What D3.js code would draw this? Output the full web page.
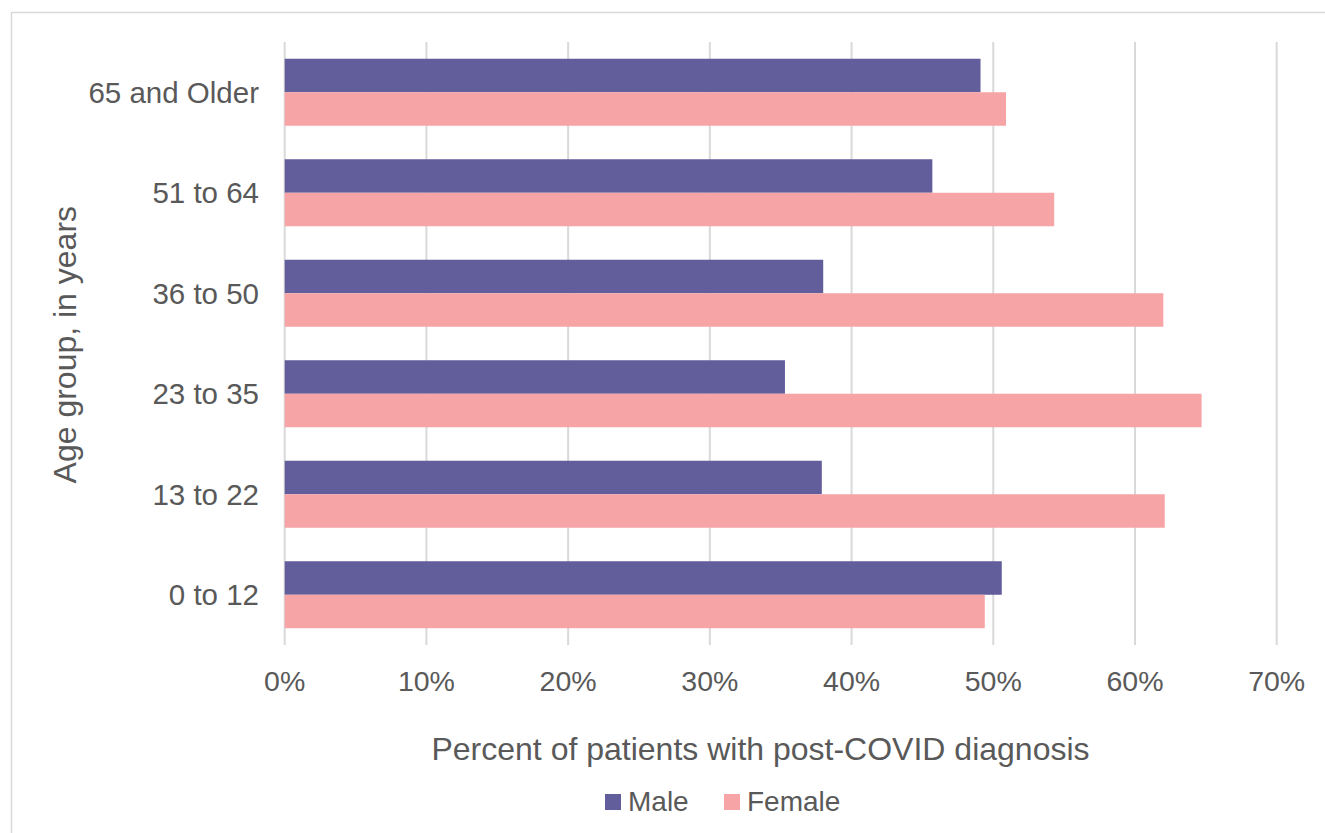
<!DOCTYPE html>
<html>
<head>
<meta charset="utf-8">
<script src="https://cdn.jsdelivr.net/npm/d3@7"></script>
<style>
  body { margin: 0; background: #fff; }
  text { font-family: "Liberation Sans", Arial, sans-serif; fill: #595959; }
</style>
</head>
<body>
<div id="chart"></div>
<script>
// age groups, top to bottom as drawn
var groups = ['65 and Older', '51 to 64', '36 to 50', '23 to 35', '13 to 22', '0 to 12'];
var male = [49.1, 45.7, 38.0, 35.3, 37.9, 50.6];
var female = [50.9, 54.3, 62.0, 64.7, 62.1, 49.4];
var ticks = [0, 10, 20, 30, 40, 50, 60, 70];
var series = ['Male', 'Female'];
var colors = ['#625e9b', '#f7a4a6'];

var width = 1325, height = 833;
var margin = { left: 284.7, right: 48.3, top: 42, bottom: 188 };

var svg = d3.select('#chart')
  .append('svg')
  .attr('width', width)
  .attr('height', height);

// outer frame
svg.append('rect')
  .attr('x', 11.5).attr('y', 12.5)
  .attr('width', width).attr('height', height)
  .attr('fill', 'none')
  .attr('stroke', '#d9d9d9')
  .attr('stroke-width', 1.5);

var x = d3.scaleLinear()
  .domain([0, 70])
  .range([margin.left, width - margin.right]);

var y = d3.scaleBand()
  .domain(groups)
  .range([margin.top, height - margin.bottom])
  .paddingInner(1 / 3)
  .paddingOuter(1 / 6);

var sub = d3.scaleBand()
  .domain(series)
  .range([0, y.bandwidth()]);

// gridlines
svg.append('g')
  .selectAll('line')
  .data(ticks)
  .enter()
  .append('line')
  .attr('x1', d => x(d)).attr('x2', d => x(d))
  .attr('y1', margin.top).attr('y2', height - margin.bottom)
  .attr('stroke', '#d9d9d9')
  .attr('stroke-width', 2);

// bars
var rows = groups.map((g, i) => ({ group: g, values: [male[i], female[i]] }));

var rowG = svg.append('g')
  .selectAll('g')
  .data(rows)
  .enter()
  .append('g')
  .attr('transform', d => 'translate(0,' + y(d.group) + ')');

rowG.selectAll('rect')
  .data(d => d.values.map((v, k) => ({ key: series[k], value: v, k: k })))
  .enter()
  .append('rect')
  .attr('x', x(0))
  .attr('y', d => sub(d.key))
  .attr('width', d => x(d.value) - x(0))
  .attr('height', sub.bandwidth())
  .attr('fill', d => colors[d.k]);

// y category labels
svg.append('g')
  .selectAll('text')
  .data(groups)
  .enter()
  .append('text')
  .attr('x', 259)
  .attr('y', d => y(d) + y.bandwidth() / 2 + 10.5)
  .attr('text-anchor', 'end')
  .style('font-size', '29.5px')
  .text(d => d);

// x tick labels
svg.append('g')
  .selectAll('text')
  .data(ticks)
  .enter()
  .append('text')
  .attr('x', d => x(d))
  .attr('y', 691)
  .attr('text-anchor', 'middle')
  .style('font-size', '28.5px')
  .text(d => d + '%');

// axis titles
svg.append('text')
  .attr('x', 760.5)
  .attr('y', 760)
  .attr('text-anchor', 'middle')
  .style('font-size', '32px')
  .text('Percent of patients with post-COVID diagnosis');

svg.append('text')
  .attr('transform', 'translate(76,344.7) rotate(-90)')
  .attr('text-anchor', 'middle')
  .style('font-size', '32px')
  .text('Age group, in years');

// legend
var legendX = [605, 724];
var leg = svg.append('g')
  .selectAll('g')
  .data(series)
  .enter()
  .append('g')
  .attr('transform', (d, i) => 'translate(' + legendX[i] + ',794)');

leg.append('rect')
  .attr('width', 16).attr('height', 16)
  .attr('fill', (d, i) => colors[i]);

leg.append('text')
  .attr('x', 23)
  .attr('y', 17)
  .style('font-size', '28px')
  .text(d => d);
</script>
</body>
</html>
